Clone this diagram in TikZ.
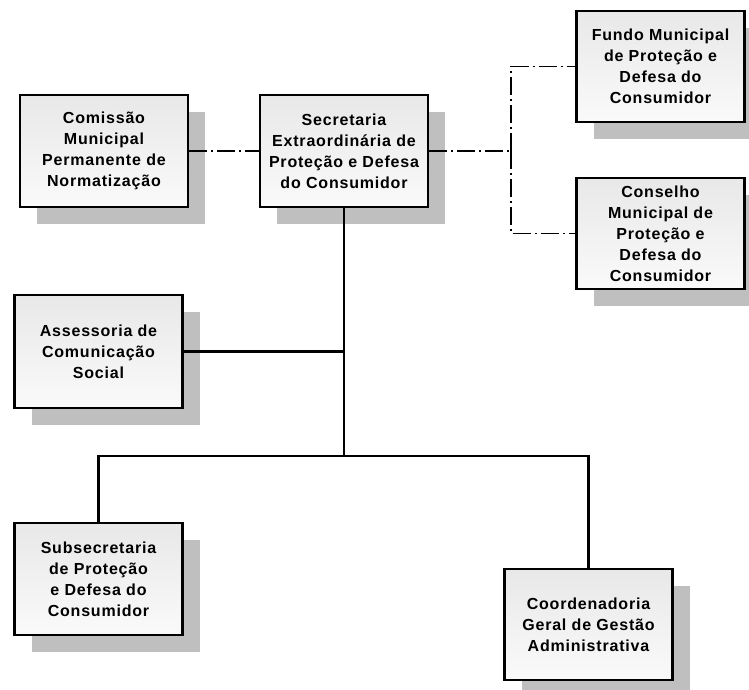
\documentclass[tikz,border=0pt]{standalone}
\usepackage{fontspec}
\setmainfont{Liberation Sans}[LetterSpace=5.0]
\usepackage{tikz}
\usetikzlibrary{shadows}
\usetikzlibrary{calc}

\tikzset{
    orgbox/.style={draw, line width=2.4pt, top color=black!9, bottom color=black!2,
        minimum width=168pt, minimum height=112pt, inner sep=0pt, align=center,
        font=\bfseries\fontsize{16}{21}\selectfont,
        general shadow={fill=black!25, shadow xshift=17pt, shadow yshift=-17pt}},
    solidlink/.style={line width=2.4pt},
    dashlink/.style={line width=1.4pt, dash pattern=on 18pt off 4pt on 2pt off 4pt}
}

\begin{document}
\begin{tikzpicture}[x=1pt, y=-1pt]
    \useasboundingbox (0,0) rectangle (749,690);

    % x-position of the trunk and of the dashed branch
    \def\xtrunk{344}
    \def\xdash{511}
    % y-position of the bus to the lower boxes
    \def\ybus{456}

    % top row
    \node[orgbox] (comissao)   at (104,151)   {Comissão\\Municipal\\Permanente de\\Normatização};
    \node[orgbox] (secretaria) at (\xtrunk,151) {Secretaria\\Extraordinária de\\Proteção e Defesa\\do Consumidor};

    % right column
    \node[orgbox, minimum height=111pt] (fundo)    at (660.5,66.5)  {Fundo Municipal\\de Proteção e\\Defesa do\\Consumidor};
    \node[orgbox, minimum height=111pt] (conselho) at (660.5,233.5) {Conselho\\Municipal de\\Proteção e\\Defesa do\\Consumidor};

    % left staff box
    \node[orgbox, minimum height=113pt] (assessoria) at (98.5,351.5) {Assessoria de\\Comunicação\\Social};

    % lower boxes
    \node[orgbox] (subsec) at (98.5,579)   {Subsecretaria\\de Proteção\\e Defesa do\\Consumidor};
    \node[orgbox, minimum height=111pt] (coord) at (588.5,624.5) {Coordenadoria\\Geral de Gestão\\Administrativa};

    % dashed links
    \coordinate (dashjoin) at (\xdash,151);
    \draw[dashlink] (comissao.east) -- (secretaria.west);
    \draw[dashlink] (secretaria.east) -- (dashjoin);
    \draw[dashlink] (dashjoin) |- (fundo.west);
    \draw[dashlink] (dashjoin) |- (conselho.west);

    % solid links
    \coordinate (bus) at (\xtrunk,\ybus);
    \draw[solidlink] (secretaria.south) -- (bus);
    \draw[solidlink] (assessoria.east) -- (assessoria.east -| bus);
    \draw[solidlink] (subsec.north) |- (bus) -| (coord.north);
\end{tikzpicture}
\end{document}
